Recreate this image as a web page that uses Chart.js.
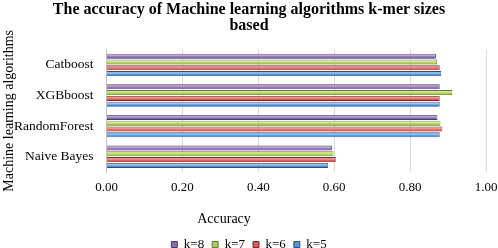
<!DOCTYPE html>
<html>
<head>
<meta charset="utf-8">
<script src="https://cdn.jsdelivr.net/npm/chart.js@4"></script>
<style>
  html, body { margin: 0; padding: 0; background: #fff; }
  #wrap { width: 498px; height: 248px; }
</style>
</head>
<body>
<div id="wrap"><canvas id="c" width="498" height="248"></canvas></div>
<script>
const categories = ['Catboost', 'XGBboost', 'RandomForest', 'Naive Bayes'];
const seriesNames = ['k=8', 'k=7', 'k=6', 'k=5'];
const k8 = [0.868, 0.878, 0.872, 0.594];
const k7 = [0.871, 0.911, 0.880, 0.598];
const k6 = [0.878, 0.878, 0.885, 0.604];
const k5 = [0.882, 0.878, 0.878, 0.584];
const xTicks = [0, 0.2, 0.4, 0.6, 0.8, 1.0];
const titleLines = ['The accuracy of Machine learning algorithms k-mer sizes', 'based'];
const xTitle = 'Accuracy';
const yTitle = 'Machine learning algorithms';

const palette = [
  { base: '#8A6CB0', light: '#BDA6E0', dark: '#5A4674', border: '#4C3B63' },
  { base: '#A8C860', light: '#D8F08A', dark: '#6F8A38', border: '#647D31' },
  { base: '#D0605C', light: '#F59A96', dark: '#8C3230', border: '#802B29' },
  { base: '#5A8FD0', light: '#9CC8F5', dark: '#335D8F', border: '#2B5282' }
];

function barFill(p) {
  return (ctx) => {
    const el = ctx.element;
    if (!el || el.y === undefined || !el.height || isNaN(el.y)) return p.base;
    const h = el.height;
    const g = ctx.chart.ctx.createLinearGradient(0, el.y - h / 2, 0, el.y + h / 2);
    g.addColorStop(0, p.base);
    g.addColorStop(0.35, p.light);
    g.addColorStop(0.7, p.base);
    g.addColorStop(1, p.dark);
    return g;
  };
}

const values = [k8, k7, k6, k5];
const datasets = values.map((v, i) => ({
  label: seriesNames[i],
  data: v,
  backgroundColor: barFill(palette[i]),
  borderColor: palette[i].border,
  borderWidth: 0.8,
  categoryPercentage: 0.76,
  barPercentage: 0.86
}));

const serif = "'Liberation Serif', 'Times New Roman', serif";

const extras = {
  id: 'extras',
  afterLayout(chart) {
    const lg = chart.legend;
    if (lg) { lg.top += 13; lg.bottom += 13; }
  },
  afterDraw(chart) {
    const ctx = chart.ctx;
    ctx.save();
    ctx.font = '14px ' + serif;
    ctx.fillStyle = '#000';
    ctx.textAlign = 'center';
    ctx.textBaseline = 'middle';
    ctx.fillText(xTitle, 224, 219);
    ctx.restore();
  }
};

const chart = new Chart(document.getElementById('c'), {
  type: 'bar',
  data: { labels: categories, datasets },
  plugins: [extras],
  options: {
    indexAxis: 'y',
    responsive: false,
    animation: false,
    layout: { padding: { left: 0, right: 0, top: 0, bottom: 0 } },
    scales: {
      x: {
        min: 0, max: 1,
        afterBuildTicks(scale) { scale.ticks = xTicks.map(v => ({ value: v })); },
        afterFit(scale) { scale.height = 45; scale.paddingRight = 12; scale.paddingLeft = 0; },
        grid: { color: '#d9d9d9', drawTicks: false, lineWidth: 1 },
        border: { display: false },
        ticks: {
          padding: 8,
          color: '#000',
          font: { family: serif, size: 13 },
          callback: (v) => Number(v).toFixed(2)
        }
      },
      y: {
        afterFit(scale) { scale.width = 106.5; },
        grid: { display: false, drawTicks: false },
        border: { display: true, color: '#bfbfbf', width: 1 },
        ticks: { padding: 13, color: '#000', font: { family: serif, size: 13.5 } },
        title: {
          display: true, text: yTitle, color: '#000',
          font: { family: serif, size: 14 },
          padding: { top: 1, bottom: 0 }
        }
      }
    },
    plugins: {
      title: {
        display: true,
        text: titleLines,
        color: '#000',
        font: { family: serif, size: 16, weight: 'bold', lineHeight: 1.05 },
        padding: { top: 1, bottom: 15 }
      },
      legend: {
        position: 'bottom',
        labels: {
          boxWidth: 6, boxHeight: 6, padding: 8,
          color: '#000',
          font: { family: serif, size: 13 },
          generateLabels(ch) {
            const items = Chart.defaults.plugins.legend.labels.generateLabels(ch);
            items.forEach((it, i) => {
              it.fillStyle = palette[i].base;
              it.strokeStyle = palette[i].border;
              it.lineWidth = 1;
            });
            return items;
          }
        }
      },
      tooltip: { enabled: false }
    }
  }
});
chart.update('none');
</script>
</body>
</html>
